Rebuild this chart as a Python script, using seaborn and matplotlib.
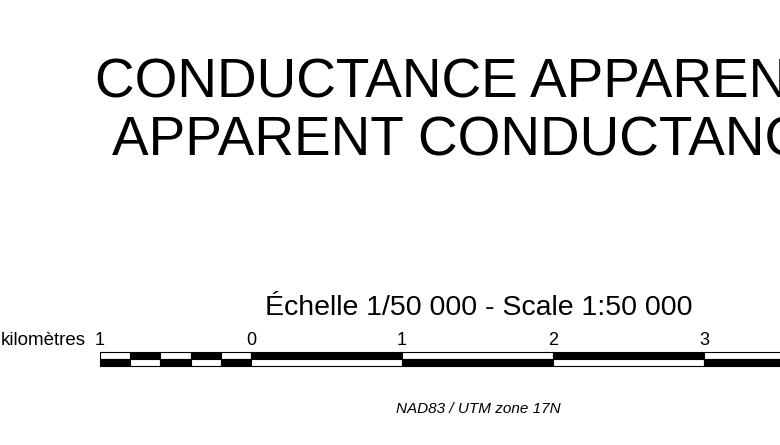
import matplotlib
matplotlib.use("Agg")
import matplotlib.pyplot as plt
import seaborn as sns

# scale bar segments (km)
seg_start = [-1.0, -0.8, -0.6, -0.4, -0.2, 0.0, 1.0, 2.0, 3.0]
seg_width = [0.2, 0.2, 0.2, 0.2, 0.2, 1.0, 1.0, 1.0, 1.0]
top_black = [0, 1, 0, 1, 0, 1, 0, 1, 0]
tick_km = [-1, 0, 1, 2, 3]
tick_labels = ["1", "0", "1", "2", "3"]

title_lines = ["CONDUCTANCE APPARENTE", "APPARENT CONDUCTANCE"]
scale_text = "Échelle 1/50 000 - Scale 1:50 000"
unit_text = "kilomètres"
proj_text = "NAD83 / UTM zone 17N"


def main():
    sns.set_theme(style="white")
    plt.rcParams["font.family"] = ["Liberation Sans", "DejaVu Sans"]
    plt.rcParams["text.color"] = "black"

    fig = plt.figure(figsize=(7.8, 4.45), dpi=100)
    ax = fig.add_axes([0, 0, 1, 1])
    # 1 km = 151 px, 0 km at x=251 px
    px = 151.0
    x0 = 251.0
    ax.set_xlim(-x0 / px, (780 - x0) / px)
    ax.set_ylim(445, 0)
    ax.axis("off")

    def km(p):
        return (p - x0) / px

    # scale bar: two rows with alternating colours
    top_colors = ["black" if b else "white" for b in top_black]
    bot_colors = ["white" if b else "black" for b in top_black]
    ax.barh(y=355.5, width=seg_width, left=seg_start, height=7,
            color=top_colors, edgecolor="black", linewidth=0.8)
    ax.barh(y=362.5, width=seg_width, left=seg_start, height=7,
            color=bot_colors, edgecolor="black", linewidth=0.8)

    for k, lab in zip(tick_km, tick_labels):
        ax.text(k, 345, lab, ha="center", va="baseline", fontsize=13, color="black")
    ax.text(km(86), 345, unit_text, ha="right", va="baseline", fontsize=13.5, color="black")

    ax.text(km(479), 315, scale_text, ha="center", va="baseline", fontsize=20.5, color="black")
    ax.text(km(478), 413, proj_text, ha="center", va="baseline",
            fontsize=11, style="italic", color="black")

    # title, runs off the right edge like the reference
    ax.text(km(95), 98, title_lines[0], ha="left", va="baseline", fontsize=39.5, color="black")
    ax.text(km(112), 155, title_lines[1], ha="left", va="baseline", fontsize=39.5, color="black")

    fig.savefig("out.png", dpi=100, facecolor="white")


if __name__ == "__main__":
    main()
